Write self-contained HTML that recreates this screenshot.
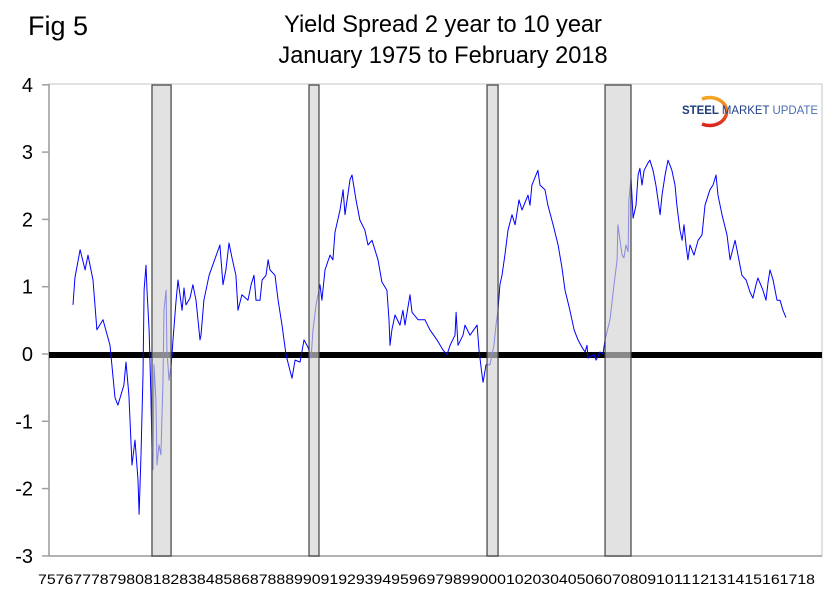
<!DOCTYPE html>
<html><head><meta charset="utf-8"><style>
html,body{margin:0;padding:0;background:#fff;}
svg{display:block;font-family:"Liberation Sans",Arial,sans-serif;}
</style></head><body>
<svg id="chart" width="832" height="597" viewBox="0 0 832 597">
<defs><linearGradient id="arcg" x1="0" y1="0" x2="0" y2="1"><stop offset="0" stop-color="#f5a623"/><stop offset="1" stop-color="#d9261c"/></linearGradient></defs>
<text x="28" y="35" font-size="27">Fig 5</text>
<text x="443" y="32" font-size="23.6" text-anchor="middle">Yield Spread 2 year to 10 year</text>
<text x="443" y="63" font-size="23.6" text-anchor="middle">January 1975 to February 2018</text>
<rect x="49" y="84" width="773" height="472" fill="#fff" stroke="#d9d9d9" stroke-width="1.5"/>
<g id="yaxis"></g>
<g id="xaxis"></g>
<line x1="49" y1="84" x2="49" y2="556" stroke="#a0a0a0" stroke-width="1.5"/>
<line x1="49" y1="556" x2="822" y2="556" stroke="#a0a0a0" stroke-width="1.5"/>
<line id="zeroline" x1="49" x2="822" stroke="#000" stroke-width="6"/>
<path id="series" fill="none" stroke="#0000ff" stroke-width="1" stroke-linejoin="round"/>
<g id="recessions"></g>
<g>
<path d="M 702 99 A 17 14 0 1 1 702 124" fill="none" stroke="url(#arcg)" stroke-width="3.5"/>
<text x="682" y="114" font-size="11.5" textLength="136" lengthAdjust="spacingAndGlyphs"><tspan font-weight="bold" fill="#1f3e7a">STEEL </tspan><tspan fill="#22428a">MARKET</tspan><tspan fill="#4a6fb0"> UPDATE</tspan></text>
</g>
</svg>
<script>
const yearTicks = ["75","76","77","78","79","80","81","82","83","84","85","86","87","88","89","90","91","92","93","94","95","96","97","98","99","00","01","02","03","04","05","06","07","08","09","10","11","12","13","14","15","16","17","18"];
const yTicks = [4,3,2,1,0,-1,-2,-3];
const recStart = [1981.15, 1990.28, 2000.63, 2007.49];
const recEnd = [1982.26, 1990.86, 2001.27, 2009.00];
const dates = [1976.56,1976.67,1976.97,1977.26,1977.43,1977.72,1977.95,1978.30,1978.71,1979.00,1979.17,1979.52,1979.64,1979.81,1979.99,1980.16,1980.34,1980.40,1980.51,1980.63,1980.69,1980.80,1980.86,1980.98,1981.09,1981.15,1981.21,1981.27,1981.38,1981.44,1981.56,1981.67,1981.79,1981.85,1981.97,1982.02,1982.14,1982.26,1982.37,1982.55,1982.66,1982.90,1983.01,1983.13,1983.36,1983.53,1983.71,1983.94,1984.00,1984.17,1984.47,1985.10,1985.28,1985.45,1985.63,1985.80,1986.03,1986.15,1986.38,1986.73,1986.91,1987.08,1987.20,1987.43,1987.55,1987.78,1987.90,1988.01,1988.30,1988.48,1988.71,1988.94,1989.17,1989.29,1989.47,1989.76,1989.99,1990.22,1990.40,1990.51,1990.69,1990.92,1991.03,1991.21,1991.50,1991.67,1991.79,1992.08,1992.26,1992.37,1992.66,1992.78,1993.01,1993.24,1993.53,1993.71,1993.94,1994.29,1994.52,1994.81,1994.93,1994.99,1995.10,1995.28,1995.57,1995.74,1995.86,1996.15,1996.27,1996.62,1997.02,1997.31,1997.72,1998.07,1998.30,1998.48,1998.77,1998.83,1998.94,1999.23,1999.35,1999.64,2000.05,2000.16,2000.34,2000.40,2000.57,2000.80,2001.03,2001.15,2001.27,2001.38,2001.50,2001.67,2001.85,2002.08,2002.26,2002.49,2002.66,2003.01,2003.13,2003.24,2003.59,2003.71,2004.00,2004.17,2004.47,2004.76,2004.99,2005.16,2005.45,2005.69,2005.92,2006.15,2006.33,2006.44,2006.50,2006.85,2006.97,2007.20,2007.37,2007.49,2007.78,2008.01,2008.19,2008.24,2008.36,2008.48,2008.59,2008.71,2008.83,2008.88,2009.00,2009.12,2009.29,2009.41,2009.52,2009.64,2009.76,2009.99,2010.10,2010.28,2010.45,2010.69,2010.80,2010.98,2011.15,2011.38,2011.56,2011.67,2011.85,2011.97,2012.08,2012.20,2012.31,2012.43,2012.66,2012.90,2013.13,2013.30,2013.59,2013.77,2013.94,2014.06,2014.29,2014.58,2014.76,2015.05,2015.22,2015.45,2015.69,2015.92,2016.09,2016.27,2016.38,2016.67,2016.85,2016.97,2017.08,2017.26,2017.49,2017.66,2017.84,2018.01];
const spread = [0.73,1.13,1.55,1.25,1.47,1.10,0.36,0.51,0.13,-0.65,-0.76,-0.46,-0.12,-0.61,-1.65,-1.28,-1.87,-2.38,-1.50,-0.31,0.95,1.32,0.95,0.36,-0.61,-1.43,-1.72,-0.16,-0.68,-1.65,-1.35,-1.50,-0.39,0.65,0.95,0.06,-0.39,-0.18,0.21,0.80,1.10,0.65,0.98,0.73,0.83,1.03,0.80,0.21,0.28,0.80,1.17,1.62,1.03,1.25,1.65,1.43,1.17,0.65,0.88,0.80,1.03,1.17,0.80,0.80,1.10,1.17,1.40,1.25,1.17,0.80,0.43,-0.01,-0.24,-0.36,-0.09,-0.12,0.21,0.10,-0.06,0.36,0.73,1.03,0.80,1.25,1.47,1.40,1.81,2.14,2.44,2.07,2.59,2.66,2.29,1.99,1.84,1.62,1.69,1.40,1.07,0.95,0.51,0.13,0.36,0.58,0.43,0.65,0.43,0.88,0.62,0.51,0.51,0.36,0.21,0.06,-0.01,0.13,0.28,0.62,0.13,0.28,0.43,0.28,0.43,0.06,-0.31,-0.42,-0.16,-0.16,0.13,0.43,0.65,1.03,1.17,1.47,1.84,2.07,1.92,2.29,2.14,2.36,2.21,2.51,2.73,2.51,2.44,2.21,1.92,1.62,1.28,0.95,0.65,0.36,0.21,0.10,0.03,0.13,-0.06,-0.01,-0.09,0.03,0.00,0.21,0.51,1.03,1.40,1.92,1.69,1.47,1.43,1.62,1.52,2.29,2.62,2.02,2.21,2.66,2.76,2.51,2.73,2.84,2.88,2.73,2.51,2.07,2.36,2.66,2.88,2.73,2.51,2.21,1.84,1.69,1.92,1.62,1.40,1.62,1.47,1.69,1.77,2.21,2.44,2.51,2.66,2.36,2.07,1.77,1.40,1.69,1.47,1.17,1.10,0.92,0.83,1.03,1.13,0.95,0.80,1.07,1.25,1.10,0.80,0.80,0.65,0.54];

const NS = "http://www.w3.org/2000/svg";
const xS = yr => 72 + (yr - 1976.5) * 17.2;
const yS = v => 354 - v * 67.3;

const yaxis = document.getElementById('yaxis');
yTicks.forEach(v => {
  const t = document.createElementNS(NS, 'text');
  t.setAttribute('x', 33); t.setAttribute('y', yS(v) + 7);
  t.setAttribute('font-size', '20'); t.setAttribute('text-anchor', 'end');
  t.textContent = v;
  
  
  yaxis.appendChild(t);
  const l = document.createElementNS(NS, 'line');
  l.setAttribute('x1', 42); l.setAttribute('x2', 49);
  l.setAttribute('y1', yS(v)); l.setAttribute('y2', yS(v));
  l.setAttribute('stroke', '#a0a0a0'); l.setAttribute('stroke-width', '1.5');
  
  
  yaxis.appendChild(l);
});
const xaxis = document.getElementById('xaxis');
const lw = 777 / yearTicks.length;
yearTicks.forEach((s, i) => {
  const t = document.createElementNS(NS, 'text');
  t.setAttribute('x', 38 + i * lw); t.setAttribute('y', 584);
  t.setAttribute('font-size', '14');
  t.setAttribute('textLength', lw); t.setAttribute('lengthAdjust', 'spacingAndGlyphs');
  t.textContent = s;
  
  
  xaxis.appendChild(t);
});
const z = document.getElementById('zeroline');
z.setAttribute('y1', yS(0) + 1); z.setAttribute('y2', yS(0) + 1);

let d = '';
dates.forEach((yr, i) => { d += (i ? 'L' : 'M') + xS(yr).toFixed(1) + ' ' + yS(spread[i]).toFixed(1); });
document.getElementById('series').setAttribute('d', d);

const rec = document.getElementById('recessions');
recStart.forEach((s, i) => {
  const r = document.createElementNS(NS, 'rect');
  r.setAttribute('x', xS(s)); r.setAttribute('y', 85);
  r.setAttribute('width', xS(recEnd[i]) - xS(s)); r.setAttribute('height', 471);
  r.setAttribute('fill', 'rgba(210,210,210,0.65)');
  r.setAttribute('stroke', '#404040'); r.setAttribute('stroke-width', '1.2');
  
  
  rec.appendChild(r);
});
</script>
</body></html>
